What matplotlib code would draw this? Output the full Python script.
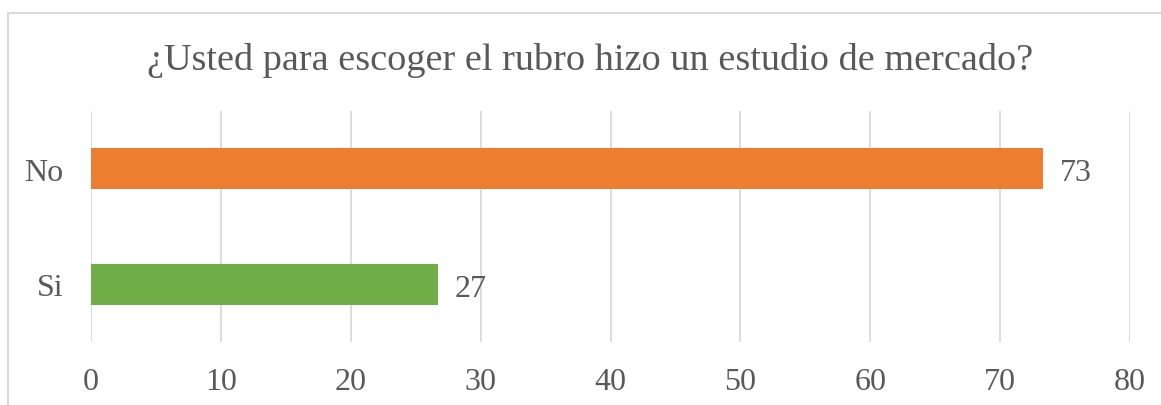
"""
Horizontal bar chart: market study before choosing the business line.
"""

import matplotlib.pyplot as plt
from matplotlib.patches import Rectangle

# Data
CATEGORIES = ['Si', 'No']
VALUES = [26.7, 73.3]
COLORS = ['#70AD47', '#ED7D31']
X_TICKS = [0, 10, 20, 30, 40, 50, 60, 70, 80]
TITLE = '¿Usted para escoger el rubro hizo un estudio de mercado?'

TEXT_COLOR = '#595959'
GRID_COLOR = '#D9D9D9'

plt.rcParams['font.family'] = ['Liberation Serif', 'DejaVu Serif']


def main():
    fig = plt.figure(figsize=(11.61, 4.06), dpi=100)
    ax = fig.add_axes([91 / 1161, 1 - 343 / 406, (1130 - 91) / 1161, (343 - 112) / 406])

    y = range(len(CATEGORIES))
    ax.barh(y, VALUES, height=0.355, color=COLORS, zorder=3)

    # Data labels (baseline slightly below bar centre, like Excel)
    for yi, v in zip(y, VALUES):
        ax.text(v + 1.3, yi - 0.1, f'{v:.0f}', va='baseline', ha='left',
                fontsize=23, color=TEXT_COLOR)

    ax.set_xlim(0, 80)
    ax.set_ylim(-0.5, 1.5)
    ax.set_xticks(X_TICKS)
    ax.set_yticks(list(y))
    ax.set_yticklabels(CATEGORIES)
    ax.tick_params(axis='both', length=0, labelsize=23, labelcolor=TEXT_COLOR)
    ax.tick_params(axis='x', pad=18)
    ax.tick_params(axis='y', pad=20)

    ax.grid(True, axis='x', color=GRID_COLOR, linewidth=1.3, zorder=0)
    for spine in ax.spines.values():
        spine.set_visible(False)

    fig.text(590 / 1161, 1 - 60 / 406, TITLE, ha='center', va='center',
             fontsize=27.5, color=TEXT_COLOR)

    # Chart frame
    frame = Rectangle((7.5 / 1161, -0.1), 1.2, 1 - 14 / 406 + 0.1,
                      transform=fig.transFigure, fill=False,
                      edgecolor=GRID_COLOR, linewidth=1.5, clip_on=False)
    fig.patches.append(frame)

    fig.savefig('out.png', dpi=100)
    plt.close(fig)


if __name__ == '__main__':
    main()
